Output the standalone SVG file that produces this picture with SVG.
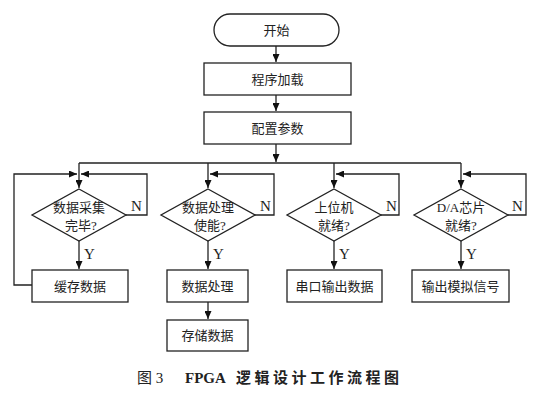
<svg xmlns="http://www.w3.org/2000/svg" width="542" height="403" viewBox="0 0 542 403">
<defs>
<marker id="ah" markerWidth="8" markerHeight="7" refX="8" refY="3.5" orient="auto" markerUnits="userSpaceOnUse">
<path d="M0,0 L8,3.5 L0,7 z" fill="#111"/>
</marker>
</defs>
<style>
.n{fill:#fff;stroke:#222;stroke-width:1.3}
.t{font-family:"Liberation Serif","Noto Sans CJK SC",serif;font-size:13px;fill:#222;text-anchor:middle}
.l{font-family:"Liberation Serif",serif;font-size:15px;fill:#222}
.c{fill:none;stroke:#222;stroke-width:1.3}
.cap{font-family:"Liberation Serif","Noto Sans CJK SC",serif;font-size:15px;fill:#222}
</style>
<rect width="542" height="403" fill="#fff"/>
<g id="connectors">
<path class="c" d="M276,46 V62" marker-end="url(#ah)"/>
<path class="c" d="M276,95 V111" marker-end="url(#ah)"/>
<path class="c" d="M276,144 V162" marker-end="url(#ah)"/>
<path class="c" d="M79,163 H461"/>
<path class="c" d="M79,163 V188" marker-end="url(#ah)"/>
<path class="c" d="M208,163 V188" marker-end="url(#ah)"/>
<path class="c" d="M334,163 V188" marker-end="url(#ah)"/>
<path class="c" d="M461,163 V188" marker-end="url(#ah)"/>
<path class="c" d="M126,215 H147 V174 H81" marker-end="url(#ah)"/>
<path class="c" d="M32,285 H14 V174 H77" marker-end="url(#ah)"/>
<path class="c" d="M255,215 H274 V174 H210" marker-end="url(#ah)"/>
<path class="c" d="M381,215 H399 V174 H336" marker-end="url(#ah)"/>
<path class="c" d="M508,215 H526 V174 H463" marker-end="url(#ah)"/>
<path class="c" d="M79,241 V269" marker-end="url(#ah)"/>
<path class="c" d="M208,241 V269" marker-end="url(#ah)"/>
<path class="c" d="M334,241 V269" marker-end="url(#ah)"/>
<path class="c" d="M461,241 V269" marker-end="url(#ah)"/>
<path class="c" d="M208,302 V319" marker-end="url(#ah)"/>
<text class="l" x="131" y="211">N</text>
<text class="l" x="260" y="211">N</text>
<text class="l" x="386" y="211">N</text>
<text class="l" x="512" y="211">N</text>
<text class="l" x="84" y="259">Y</text>
<text class="l" x="213" y="259">Y</text>
<text class="l" x="339" y="259">Y</text>
<text class="l" x="466" y="259">Y</text>
</g>
<g id="start">
<rect class="n" x="214" y="14" width="125" height="32" rx="16" ry="16"/>
<text class="t" x="276.5" y="35">开始</text>
</g>
<g id="load">
<rect class="n" x="204" y="63" width="147" height="32"/>
<text class="t" x="277.5" y="84">程序加载</text>
</g>
<g id="config">
<rect class="n" x="204" y="112" width="147" height="32"/>
<text class="t" x="277.5" y="133">配置参数</text>
</g>
<g id="d1">
<path class="n" d="M79,189 L126,215 L79,241 L32,215 Z"/>
<text class="t" x="79" y="212">数据采集</text>
<text class="t" x="81" y="230">完毕?</text>
</g>
<g id="d2">
<path class="n" d="M208,189 L255,215 L208,241 L161,215 Z"/>
<text class="t" x="208" y="212">数据处理</text>
<text class="t" x="210" y="230">使能?</text>
</g>
<g id="d3">
<path class="n" d="M334,189 L381,215 L334,241 L287,215 Z"/>
<text class="t" x="334" y="212">上位机</text>
<text class="t" x="334" y="230">就绪?</text>
</g>
<g id="d4">
<path class="n" d="M461,189 L508,215 L461,241 L414,215 Z"/>
<text class="t" x="461" y="212">D/A芯片</text>
<text class="t" x="461" y="230">就绪?</text>
</g>
<g id="b1">
<rect class="n" x="32" y="270" width="96" height="32"/>
<text class="t" x="80" y="291">缓存数据</text>
</g>
<g id="b2">
<rect class="n" x="167" y="270" width="81" height="32"/>
<text class="t" x="207.5" y="291">数据处理</text>
</g>
<g id="b2b">
<rect class="n" x="167" y="320" width="81" height="31"/>
<text class="t" x="207.5" y="340">存储数据</text>
</g>
<g id="b3">
<rect class="n" x="287" y="270" width="95" height="32"/>
<text class="t" x="334.5" y="291">串口输出数据</text>
</g>
<g id="b4">
<rect class="n" x="412" y="270" width="97" height="32"/>
<text class="t" x="460.5" y="291">输出模拟信号</text>
</g>
<text class="cap" x="137" y="383">图 3</text>
<text class="cap" x="185" y="383" style="font-weight:bold">FPGA</text>
<text class="cap" x="236" y="383" letter-spacing="3.5" style="font-weight:bold">逻辑设计工作流程图</text>
</svg>
